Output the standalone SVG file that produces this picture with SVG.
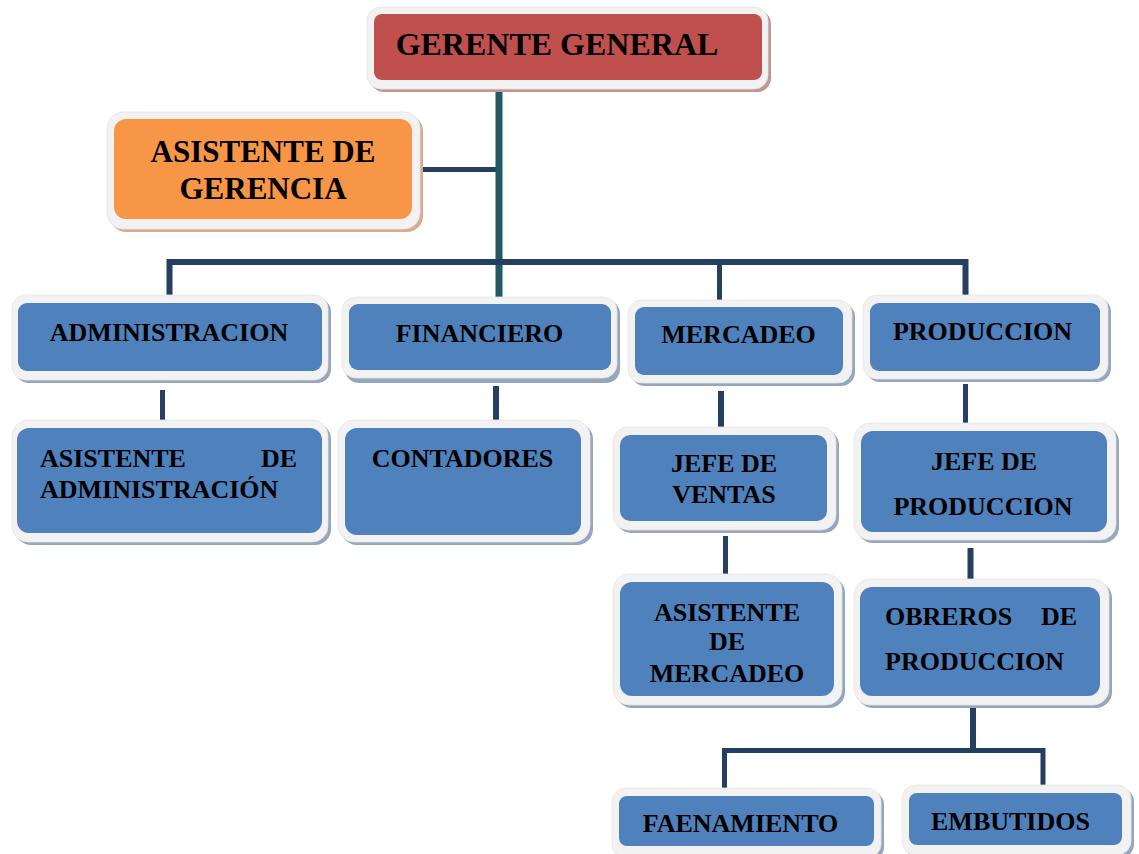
<svg xmlns="http://www.w3.org/2000/svg" width="1139" height="854" viewBox="0 0 1139 854">
<style>
.o{fill:#f2f2f2;stroke:#e4e4e4;stroke-width:0.8}
.sb{fill:#95a6be}
.sr{fill:#c39595}
.so{fill:#d8ab8a}
.b{fill:#4f81bd}
.r{fill:#c0504d}
.or{fill:#f79646}
.t{font-family:"Liberation Serif","Times New Roman",serif;font-weight:bold;fill:#000;font-size:26px}
.big{font-size:31px}
.c{stroke:#243f60;fill:none;stroke-linecap:butt;stroke-linejoin:miter}
.tr{stroke:#215968;fill:none}
</style>
<rect width="1139" height="854" fill="#fff"/>
<g id="connectors">
<line class="c" x1="420" y1="169.5" x2="499" y2="169.5" stroke-width="5"/>
<path class="tr" d="M499 88V297" stroke-width="7"/>
<path class="c" d="M169.5 295V262H965.5V295" stroke-width="6"/>
<line class="c" x1="719.5" y1="262" x2="719.5" y2="300" stroke-width="5"/>
<line class="c" x1="162.5" y1="390" x2="162.5" y2="420" stroke-width="5"/>
<line class="c" x1="496" y1="386" x2="496" y2="420" stroke-width="6"/>
<line class="c" x1="721" y1="391" x2="721" y2="427" stroke-width="6"/>
<line class="c" x1="725.5" y1="536" x2="725.5" y2="574" stroke-width="5"/>
<line class="c" x1="965.5" y1="384" x2="965.5" y2="423" stroke-width="5"/>
<line class="c" x1="970.5" y1="548" x2="970.5" y2="579" stroke-width="6"/>
<path class="c" d="M724.5 788V750.5H1043V785" stroke-width="5"/>
<line class="c" x1="973" y1="706" x2="973" y2="750" stroke-width="6"/>
</g>
<g id="gerente-general">
<rect class="sr" x="370" y="10" width="401" height="82" rx="14"/>
<rect class="o" x="367" y="7" width="401" height="82" rx="14"/>
<rect class="r" x="374" y="14" width="388" height="66" rx="8"/>
<text class="t" x="557" y="55" text-anchor="middle" font-size="32" style="font-size:32px">GERENTE GENERAL</text>
</g>
<g id="asistente-gerencia">
<rect class="so" x="110" y="115" width="313" height="117" rx="16"/>
<rect class="o" x="107" y="112" width="313" height="117" rx="16"/>
<rect class="or" x="114" y="119" width="298" height="100" rx="12"/>
<text class="t big" x="263" y="162" text-anchor="middle">ASISTENTE DE</text>
<text class="t big" x="263" y="199" text-anchor="middle">GERENCIA</text>
</g>
<g id="administracion">
<rect class="sb" x="15" y="298" width="316" height="85" rx="14"/>
<rect class="o" x="12" y="295" width="316" height="85" rx="14"/>
<rect class="b" x="18" y="303" width="304" height="68" rx="9"/>
<text class="t" x="169" y="341" text-anchor="middle">ADMINISTRACION</text>
</g>
<g id="asistente-administracion">
<rect class="sb" x="15" y="423" width="316" height="122" rx="16"/>
<rect class="o" x="12" y="420" width="316" height="122" rx="16"/>
<rect class="b" x="17" y="428" width="305" height="105" rx="12"/>
<text class="t" x="40" y="467">ASISTENTE</text>
<text class="t" x="297" y="467" text-anchor="end">DE</text>
<text class="t" x="40" y="498">ADMINISTRACIÓN</text>
</g>
<g id="financiero">
<rect class="sb" x="345" y="300" width="275" height="83" rx="14"/>
<rect class="o" x="342" y="297" width="275" height="81" rx="14"/>
<rect class="b" x="349" y="304" width="262" height="66" rx="9"/>
<text class="t" x="479.5" y="342" text-anchor="middle">FINANCIERO</text>
</g>
<g id="contadores">
<rect class="sb" x="341" y="423" width="252" height="122" rx="16"/>
<rect class="o" x="338" y="420" width="252" height="122" rx="16"/>
<rect class="b" x="345" y="428" width="236" height="107" rx="12"/>
<text class="t" x="462.5" y="467" text-anchor="middle">CONTADORES</text>
</g>
<g id="mercadeo">
<rect class="sb" x="631" y="303" width="224" height="83" rx="14"/>
<rect class="o" x="628" y="300" width="224" height="83" rx="14"/>
<rect class="b" x="635" y="307" width="208" height="68" rx="9"/>
<text class="t" x="738.5" y="343" text-anchor="middle">MERCADEO</text>
</g>
<g id="jefe-ventas">
<rect class="sb" x="616" y="430" width="223" height="103" rx="15"/>
<rect class="o" x="613" y="427" width="223" height="103" rx="15"/>
<rect class="b" x="620" y="435" width="207" height="86" rx="10"/>
<text class="t" x="724" y="472" text-anchor="middle">JEFE DE</text>
<text class="t" x="724" y="503" text-anchor="middle">VENTAS</text>
</g>
<g id="asistente-mercadeo">
<rect class="sb" x="616" y="577" width="229" height="131" rx="16"/>
<rect class="o" x="613" y="574" width="229" height="131" rx="16"/>
<rect class="b" x="620" y="582" width="214" height="114" rx="12"/>
<text class="t" x="727" y="621" text-anchor="middle">ASISTENTE</text>
<text class="t" x="727" y="650" text-anchor="middle">DE</text>
<text class="t" x="727" y="682" text-anchor="middle">MERCADEO</text>
</g>
<g id="produccion">
<rect class="sb" x="866" y="298" width="245" height="84" rx="14"/>
<rect class="o" x="863" y="295" width="245" height="84" rx="14"/>
<rect class="b" x="870" y="303" width="230" height="68" rx="9"/>
<text class="t" x="982.5" y="340" text-anchor="middle">PRODUCCION</text>
</g>
<g id="jefe-produccion">
<rect class="sb" x="857" y="426" width="262" height="117" rx="16"/>
<rect class="o" x="854" y="423" width="262" height="117" rx="16"/>
<rect class="b" x="861" y="431" width="246" height="101" rx="12"/>
<text class="t" x="984" y="470" text-anchor="middle">JEFE DE</text>
<text class="t" x="983" y="515" text-anchor="middle">PRODUCCION</text>
</g>
<g id="obreros-produccion">
<rect class="sb" x="857" y="582" width="255" height="126" rx="16"/>
<rect class="o" x="854" y="579" width="255" height="126" rx="16"/>
<rect class="b" x="860" y="587" width="240" height="109" rx="12"/>
<text class="t" x="885" y="625">OBREROS</text>
<text class="t" x="1077" y="625" text-anchor="end">DE</text>
<text class="t" x="885" y="670">PRODUCCION</text>
</g>
<g id="faenamiento">
<rect class="sb" x="615" y="791" width="269" height="70" rx="14"/>
<rect class="o" x="612" y="788" width="269" height="70" rx="14"/>
<rect class="b" x="619" y="796" width="255" height="50" rx="8"/>
<text class="t" x="740.5" y="832" text-anchor="middle">FAENAMIENTO</text>
</g>
<g id="embutidos">
<rect class="sb" x="905" y="788" width="229" height="70" rx="14"/>
<rect class="o" x="902" y="785" width="229" height="70" rx="14"/>
<rect class="b" x="909" y="793" width="213" height="52" rx="8"/>
<text class="t" x="1010.5" y="830" text-anchor="middle">EMBUTIDOS</text>
</g>
</svg>
